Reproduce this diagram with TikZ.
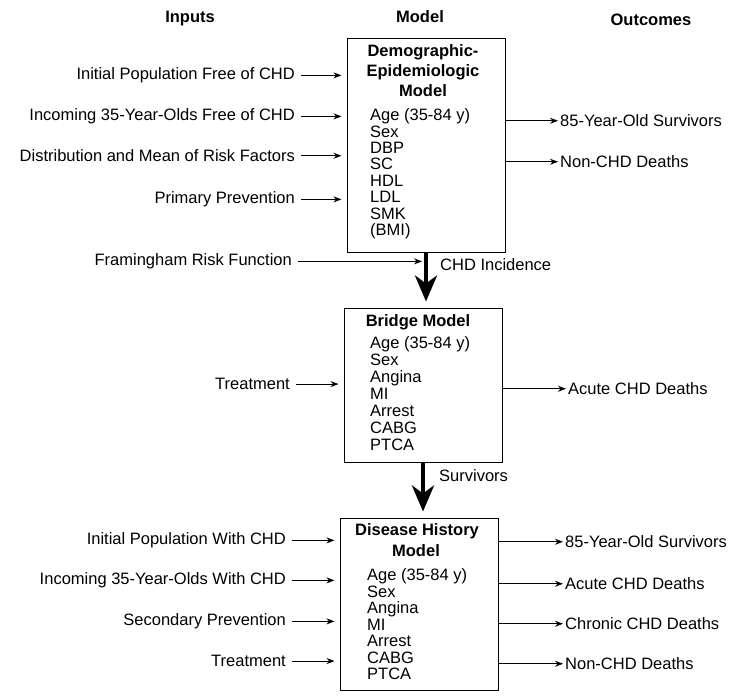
\documentclass[tikz,border=0pt]{standalone}
\usepackage{fontspec}
\setmainfont{Liberation Sans}
\usetikzlibrary{arrows.meta}
\begin{document}
\begin{tikzpicture}[x=1pt,y=-1pt,
  txt/.style={inner sep=0pt, font=\fontsize{16.5}{18}\selectfont},
  inlabel/.style={txt, anchor=mid east},
  outlabel/.style={txt, anchor=mid west},
  head/.style={txt, anchor=mid, font=\fontsize{16.5}{18}\selectfont\bfseries},
  boxtitle/.style={txt, anchor=mid, font=\fontsize{16.5}{18}\selectfont\bfseries},
  item/.style={txt, anchor=mid west},
  modelbox/.style={draw, line width=1pt, inner sep=0pt},
  inarrow/.style={line width=1pt, -{Stealth[length=8pt,width=6pt]}, shorten <=6pt, shorten >=5pt},
  outarrow/.style={line width=1pt, -{Stealth[length=8pt,width=6pt]}, shorten >=2pt},
  bigarrow/.style={line width=4pt, -{Stealth[length=26pt,width=22pt,inset=8pt]}, shorten >=6pt},
]
\useasboundingbox (0,0) rectangle (734,699);

% column headings
\node[head] (hin)  at (190,20) {Inputs};
\node[head] (hmod) at (420,20) {Model};
\node[head] (hout) at (651,23) {Outcomes};

% ---------- demographic-epidemiologic model ----------
\node[modelbox, minimum width=158pt, minimum height=214pt] (box1) at (426,145) {};
\node[boxtitle] (t1a) at (423,54) {Demographic-};
\node[boxtitle] (t1b) at (423,74) {Epidemiologic};
\node[boxtitle] (t1c) at (423,94) {Model};
\node[item] (a1) at (370,118) {Age (35-84 y)};
\node[item] (a2) at (370,134.5) {Sex};
\node[item] (a3) at (370,151) {DBP};
\node[item] (a4) at (370,167) {SC};
\node[item] (a5) at (370,184) {HDL};
\node[item] (a6) at (370,200) {LDL};
\node[item] (a7) at (370,217) {SMK};
\node[item] (a8) at (370,233) {(BMI)};

\node[inlabel] (i1) at (295,77)  {Initial Population Free of CHD};
\node[inlabel] (i2) at (295,118) {Incoming 35-Year-Olds Free of CHD};
\node[inlabel] (i3) at (295,159) {Distribution and Mean of Risk Factors};
\node[inlabel] (i4) at (295,201) {Primary Prevention};
\foreach \n in {i1,i2,i3,i4} \draw[inarrow] (\n) -- (\n -| box1.west);

\node[outlabel] (o1) at (560,124) {85-Year-Old Survivors};
\node[outlabel] (o2) at (560,165) {Non-CHD Deaths};
\foreach \n in {o1,o2} \draw[outarrow] (box1.east |- \n) -- (\n);

% ---------- bridge model ----------
\node[modelbox, minimum width=158pt, minimum height=154pt] (box2) at (423,385) {};
\node[boxtitle] (t2) at (418,324) {Bridge Model};
\node[item] (b1) at (370,346) {Age (35-84 y)};
\node[item] (b2) at (370,363) {Sex};
\node[item] (b3) at (370,380) {Angina};
\node[item] (b4) at (370,397) {MI};
\node[item] (b5) at (370,414) {Arrest};
\node[item] (b6) at (370,431) {CABG};
\node[item] (b7) at (370,448) {PTCA};

\draw[bigarrow] (box1.south) -- (box1.south |- box2.north);
\node[inlabel] (fr) at (292,263) {Framingham Risk Function};
\draw[inarrow, shorten >=4pt] (fr) -- (fr -| box1.south);
\node[outlabel] (inc) at (440,268) {CHD Incidence};

\node[inlabel] (j1) at (290,387) {Treatment};
\draw[inarrow] (j1) -- (j1 -| box2.west);
\node[outlabel] (p1) at (568,392) {Acute CHD Deaths};
\draw[outarrow] (box2.east |- p1) -- (p1);

% ---------- disease history model ----------
\node[modelbox, minimum width=158pt, minimum height=172pt] (box3) at (419,604) {};
\node[boxtitle] (t3a) at (417,533) {Disease History};
\node[boxtitle] (t3b) at (416,554) {Model};
\node[item] (c1) at (367,578) {Age (35-84 y)};
\node[item] (c2) at (367,594.5) {Sex};
\node[item] (c3) at (367,611) {Angina};
\node[item] (c4) at (367,627.5) {MI};
\node[item] (c5) at (367,644) {Arrest};
\node[item] (c6) at (367,660.5) {CABG};
\node[item] (c7) at (367,677) {PTCA};

\draw[bigarrow] (box2.south) -- (box2.south |- box3.north);
\node[outlabel] (surv) at (439,479) {Survivors};

\node[inlabel] (k1) at (286,542) {Initial Population With CHD};
\node[inlabel] (k2) at (286,582) {Incoming 35-Year-Olds With CHD};
\node[inlabel] (k3) at (286,623) {Secondary Prevention};
\node[inlabel] (k4) at (286,664) {Treatment};
\foreach \n in {k1,k2,k3,k4} \draw[inarrow] (\n) -- (\n -| box3.west);

\node[outlabel] (q1) at (565,545) {85-Year-Old Survivors};
\node[outlabel] (q2) at (565,587) {Acute CHD Deaths};
\node[outlabel] (q3) at (565,627) {Chronic CHD Deaths};
\node[outlabel] (q4) at (565,667) {Non-CHD Deaths};
\foreach \n in {q1,q2,q3,q4} \draw[outarrow] (box3.east |- \n) -- (\n);
\end{tikzpicture}
\end{document}
